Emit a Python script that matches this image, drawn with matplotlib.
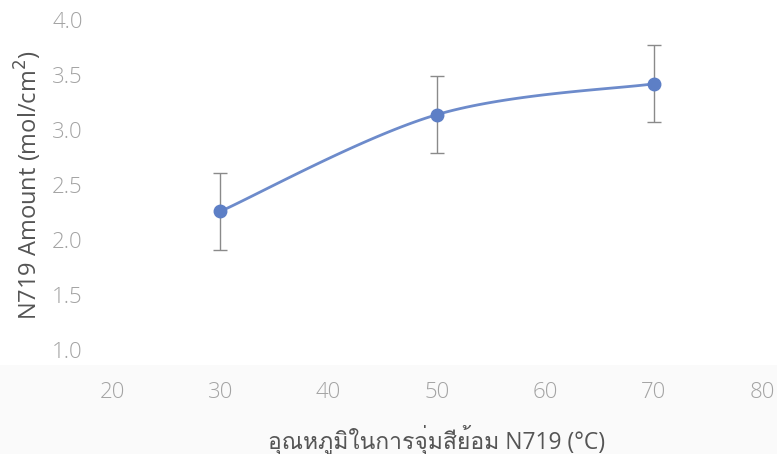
import matplotlib
matplotlib.use("Agg")
import matplotlib.pyplot as plt
from matplotlib import font_manager as fm
from matplotlib.patches import Rectangle
import numpy as np

# Dye-loading data
temps = [30, 50, 70]
amounts = [2.26, 3.14, 3.42]
errors = [0.35, 0.35, 0.35]
x_ticks = [20, 30, 40, 50, 60, 70, 80]
y_ticks = [1.0, 1.5, 2.0, 2.5, 3.0, 3.5, 4.0]

x_label = "อุณหภูมิในการจุ่มสีย้อม N719 (°C)"
y_label = "N719 Amount (mol/cm$^2$)"


def find_thai_family():
    """Return the name of an installed font that covers Thai script."""
    try:
        from fontTools.ttLib import TTFont
    except Exception:
        return None
    for f in fm.fontManager.ttflist:
        try:
            tt = TTFont(f.fname, fontNumber=0, lazy=True)
            cmap = tt.getBestCmap()
            if cmap and 0x0E01 in cmap and 0x0E38 in cmap and 0x0E49 in cmap:
                return f.name
        except Exception:
            continue
    return None


def catmull_rom(xs, ys, n=40):
    pts = np.column_stack([xs, ys]).astype(float)
    pts = np.vstack([pts[0], pts, pts[-1]])
    out = []
    for i in range(1, len(pts) - 2):
        p0, p1, p2, p3 = pts[i - 1], pts[i], pts[i + 1], pts[i + 2]
        t = np.linspace(0, 1, n)[:, None]
        seg = 0.5 * ((2 * p1) + (-p0 + p2) * t
                     + (2 * p0 - 5 * p1 + 4 * p2 - p3) * t ** 2
                     + (-p0 + 3 * p1 - 3 * p2 + p3) * t ** 3)
        out.append(seg)
    c = np.vstack(out)
    return c[:, 0], c[:, 1]


thai = find_thai_family()
families = ["Open Sans", "DejaVu Sans"]
if thai:
    families = ["Open Sans", thai, "DejaVu Sans"]

W, H = 777, 454
fig = plt.figure(figsize=(W / 100, H / 100), dpi=100)
fig.patch.set_facecolor("white")

# barely-visible grey band at the bottom of the canvas
fig.patches.append(Rectangle((0, 0), 1, 1 - 365 / H, transform=fig.transFigure,
                             facecolor="#fafafa", edgecolor="none", zorder=-10))

ax = fig.add_axes([112 / W, 1 - 350 / H, (762 - 112) / W, (350 - 20) / H])
ax.set_facecolor("none")

cx, cy = catmull_rom(temps, amounts)
ax.plot(cx, cy, color="#6d8bcb", lw=2.0, solid_capstyle="round", zorder=2)
ax.errorbar(temps, amounts, yerr=errors, fmt="none", ecolor="#8a8a8a",
            elinewidth=1.0, capsize=5, capthick=1.0, zorder=3)
ax.plot(temps, amounts, "o", color="#5d7fc6", ms=9, mec="#5d7fc6", zorder=4)

ax.set_xlim(20, 80)
ax.set_ylim(1.0, 4.0)
ax.set_xticks(x_ticks)
ax.set_yticks(y_ticks)
ax.set_xticklabels([str(v) for v in x_ticks])
ax.set_yticklabels([f"{v:.1f}" for v in y_ticks])
for s in ax.spines.values():
    s.set_visible(False)
ax.tick_params(axis="both", length=0, colors="#a3a3a3", labelsize=16)
ax.tick_params(axis="x", pad=23)
ax.tick_params(axis="y", pad=21)
for lab in ax.get_xticklabels() + ax.get_yticklabels():
    lab.set_fontfamily(families)
    lab.set_fontweight("light")

fig.text(28 / W, 1 - 185 / H, y_label, rotation=90, ha="center", va="center",
         fontsize=17, color="#555555", family=families)
fig.text(437 / W, 1 - 440 / H, x_label, ha="center", va="center",
         fontsize=16.5, color="#555555", family=families)

fig.savefig("out.png", dpi=100)
